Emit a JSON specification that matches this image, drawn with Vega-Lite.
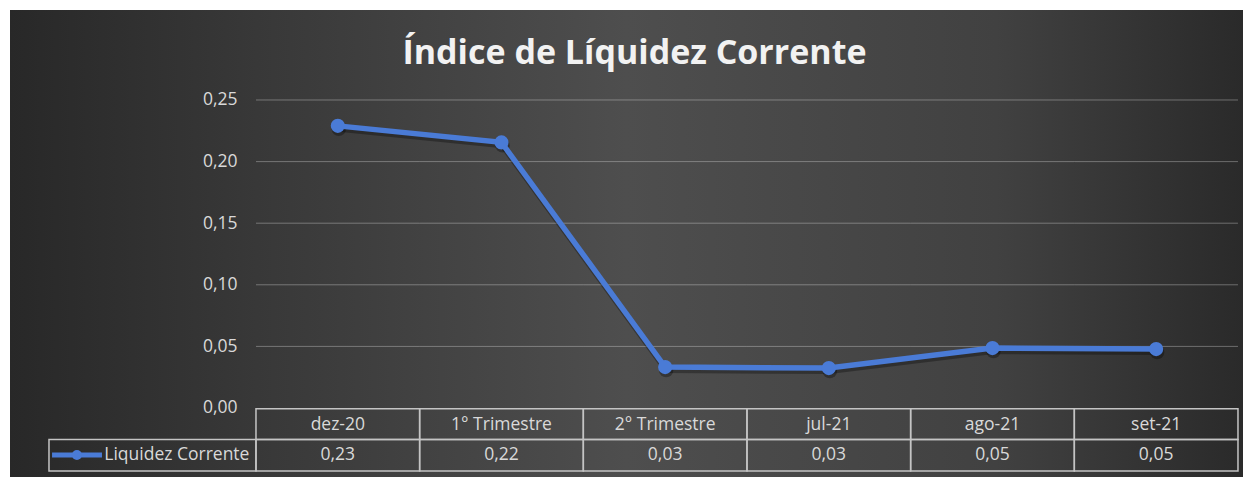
{
  "$schema": "https://vega.github.io/schema/vega-lite/v6.json",
  "width": 1233,
  "height": 467,
  "autosize": {"type": "none"},
  "padding": {"left": 10, "top": 10, "right": 0, "bottom": 0},
  "background": "#ffffff",
  "title": {
    "text": "Índice de Líquidez Corrente",
    "anchor": "middle",
    "frame": "group",
    "offset": -88,
    "dx": 8,
    "baseline": "alphabetic",
    "font": "Open Sans",
    "fontSize": 34,
    "fontWeight": "bold",
    "color": "#f2f2f2"
  },
  "config": {
    "locale": {"number": {"decimal": ",", "thousands": ".", "grouping": [3], "currency": ["R$ ", ""]}},
    "font": "Open Sans",
    "view": {
      "stroke": null,
      "fill": {
        "gradient": "linear",
        "x1": 0, "y1": 0, "x2": 1, "y2": 0,
        "stops": [
          {"offset": 0, "color": "#282828"},
          {"offset": 0.2, "color": "#383838"},
          {"offset": 0.5, "color": "#4e4e4e"},
          {"offset": 0.8, "color": "#414141"},
          {"offset": 1, "color": "#2a2a2a"}
        ]
      }
    }
  },
  "data": {
    "values": [
      {"periodo": "dez-20", "liquidez": 0.229},
      {"periodo": "1° Trimestre", "liquidez": 0.2156},
      {"periodo": "2° Trimestre", "liquidez": 0.0332},
      {"periodo": "jul-21", "liquidez": 0.0324},
      {"periodo": "ago-21", "liquidez": 0.0486},
      {"periodo": "set-21", "liquidez": 0.0478}
    ]
  },
  "layer": [
    {
      "mark": {"type": "rect", "fill": null, "stroke": "#ffffff", "strokeOpacity": 0.17, "strokeWidth": 1},
      "encoding": {
        "x": {"field": "periodo", "type": "nominal", "axis": null, "scale": {"type": "band", "domain": ["dez-20", "1° Trimestre", "2° Trimestre", "jul-21", "ago-21", "set-21"], "paddingInner": 0, "paddingOuter": 0.7668, "align": 0.98}},
        "y": {
          "datum": 0.25,
          "type": "quantitative",
          "scale": {"domain": [-0.05601, 0.32305], "nice": false, "zero": false},
          "axis": {
            "orient": "left",
            "offset": -232,
            "domain": false,
            "ticks": false,
            "grid": false,
            "labelPadding": 5,
            "values": [0, 0.05, 0.1, 0.15, 0.2, 0.25],
            "format": ".2f",
            "labelFont": "Open Sans",
            "labelFontSize": 17.5,
            "labelColor": "#d9d9d9",
            "title": null
          }
        },
        "y2": {"datum": 0.25}
      }
    },
    {
      "mark": {"type": "rect", "fill": null, "stroke": "#ffffff", "strokeOpacity": 0.17, "strokeWidth": 1},
      "encoding": {
        "x": {"field": "periodo", "type": "nominal", "axis": null},
        "y": {"datum": 0.2, "type": "quantitative"},
        "y2": {"datum": 0.2}
      }
    },
    {
      "mark": {"type": "rect", "fill": null, "stroke": "#ffffff", "strokeOpacity": 0.17, "strokeWidth": 1},
      "encoding": {
        "x": {"field": "periodo", "type": "nominal", "axis": null},
        "y": {"datum": 0.15, "type": "quantitative"},
        "y2": {"datum": 0.15}
      }
    },
    {
      "mark": {"type": "rect", "fill": null, "stroke": "#ffffff", "strokeOpacity": 0.17, "strokeWidth": 1},
      "encoding": {
        "x": {"field": "periodo", "type": "nominal", "axis": null},
        "y": {"datum": 0.1, "type": "quantitative"},
        "y2": {"datum": 0.1}
      }
    },
    {
      "mark": {"type": "rect", "fill": null, "stroke": "#ffffff", "strokeOpacity": 0.17, "strokeWidth": 1},
      "encoding": {
        "x": {"field": "periodo", "type": "nominal", "axis": null},
        "y": {"datum": 0.05, "type": "quantitative"},
        "y2": {"datum": 0.05}
      }
    },
    {
      "mark": {"type": "rect", "fill": null, "stroke": "#c4c4c4", "strokeWidth": 1.5},
      "encoding": {
        "x": {"field": "periodo", "type": "nominal", "axis": null},
        "y": {"datum": -0.0006, "type": "quantitative"},
        "y2": {"datum": -0.0256}
      }
    },
    {
      "mark": {"type": "rect", "fill": null, "stroke": "#c4c4c4", "strokeWidth": 1.5},
      "encoding": {
        "x": {"field": "periodo", "type": "nominal", "axis": null},
        "y": {"datum": -0.0256, "type": "quantitative"},
        "y2": {"datum": -0.0511}
      }
    },
    {
      "data": {"values": [{"serie": "Liquidez Corrente"}]},
      "mark": {"type": "rect", "fill": null, "stroke": "#c4c4c4", "strokeWidth": 1.5},
      "encoding": {
        "x": {"datum": "dez-20", "type": "nominal", "bandPosition": -1.2647, "axis": null},
        "x2": {"datum": "dez-20", "bandPosition": 0},
        "y": {"datum": -0.0256, "type": "quantitative"},
        "y2": {"datum": -0.0511}
      }
    },
    {
      "mark": {"type": "text", "color": "#d9d9d9", "fontSize": 17.5, "baseline": "middle", "align": "center"},
      "encoding": {
        "x": {"field": "periodo", "type": "nominal", "bandPosition": 0.5, "axis": null},
        "y": {"datum": -0.0134, "type": "quantitative"},
        "text": {"field": "periodo"}
      }
    },
    {
      "mark": {"type": "text", "color": "#d9d9d9", "fontSize": 17.5, "baseline": "middle", "align": "center"},
      "encoding": {
        "x": {"field": "periodo", "type": "nominal", "bandPosition": 0.5, "axis": null},
        "y": {"datum": -0.0381, "type": "quantitative"},
        "text": {"field": "liquidez", "type": "quantitative", "format": ".2f"}
      }
    },
    {
      "data": {"values": [{"serie": "Liquidez Corrente"}]},
      "mark": {"type": "rule", "color": "#4a7bd6", "strokeWidth": 5},
      "encoding": {
        "x": {"datum": "dez-20", "type": "nominal", "bandPosition": -1.246, "axis": null},
        "x2": {"datum": "dez-20", "bandPosition": -0.941},
        "y": {"datum": -0.0381, "type": "quantitative"}
      }
    },
    {
      "data": {"values": [{"serie": "Liquidez Corrente"}]},
      "mark": {"type": "point", "filled": true, "opacity": 1, "color": "#4a7bd6", "size": 100},
      "encoding": {
        "x": {"datum": "dez-20", "type": "nominal", "bandPosition": -1.094, "axis": null},
        "y": {"datum": -0.0381, "type": "quantitative"}
      }
    },
    {
      "data": {"values": [{"serie": "Liquidez Corrente"}]},
      "mark": {"type": "text", "color": "#d9d9d9", "fontSize": 17.5, "baseline": "middle", "align": "right"},
      "encoding": {
        "x": {"datum": "dez-20", "type": "nominal", "bandPosition": -0.04, "axis": null},
        "y": {"datum": -0.0381, "type": "quantitative"},
        "text": {"field": "serie"}
      }
    },
    {
      "mark": {"type": "line", "color": "#000000", "opacity": 0.3, "strokeWidth": 6, "yOffset": 3, "xOffset": 1},
      "encoding": {
        "x": {"field": "periodo", "type": "nominal", "bandPosition": 0.5, "axis": null},
        "y": {"field": "liquidez", "type": "quantitative"}
      }
    },
    {
      "mark": {"type": "point", "filled": true, "opacity": 0.3, "color": "#000000", "size": 210, "yOffset": 3, "xOffset": 1},
      "encoding": {
        "x": {"field": "periodo", "type": "nominal", "bandPosition": 0.5, "axis": null},
        "y": {"field": "liquidez", "type": "quantitative"}
      }
    },
    {
      "mark": {"type": "line", "color": "#4a7bd6", "strokeWidth": 5.5},
      "encoding": {
        "x": {"field": "periodo", "type": "nominal", "bandPosition": 0.5, "axis": null},
        "y": {"field": "liquidez", "type": "quantitative"}
      }
    },
    {
      "mark": {"type": "point", "filled": true, "opacity": 1, "color": "#4a7bd6", "size": 200},
      "encoding": {
        "x": {"field": "periodo", "type": "nominal", "bandPosition": 0.5, "axis": null},
        "y": {"field": "liquidez", "type": "quantitative"}
      }
    }
  ]
}
